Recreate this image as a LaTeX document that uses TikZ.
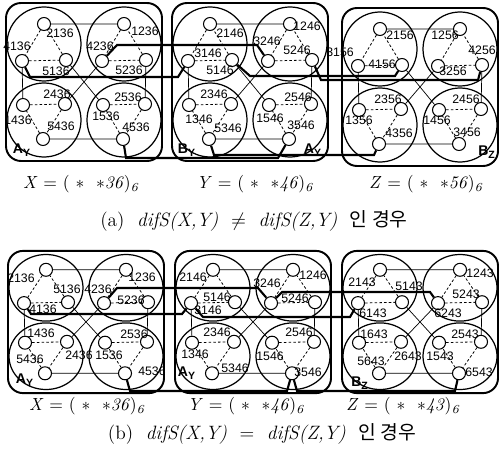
\documentclass[tikz,border=0pt]{standalone}
\usepackage{fontspec}
\usepackage{amsmath}
\usetikzlibrary{positioning}
\newfontfamily\numfont{Liberation Sans}
\newfontfamily\kfont{Noto Sans CJK KR}

\tikzset{
  box/.style={line width=1.1pt, rounded corners=0.3cm},
  ring/.style={line width=0.7pt},
  pe/.style={circle, draw, line width=0.6pt, fill=white, minimum size=0.26cm, inner sep=0pt},
  tri/.style={line width=0.45pt, dash pattern=on 1.5pt off 1.2pt},
  dim/.style={line width=0.4pt},
  link/.style={line width=1.2pt},
  num/.style={font=\numfont\fontsize{7}{8}\selectfont, inner sep=0pt},
  lettag/.style={font=\numfont\bfseries\fontsize{8}{9}\selectfont, inner sep=0pt},
  grpcap/.style={font=\fontsize{10}{12}\selectfont, inner sep=0pt}
}

% one group: #1 name, #2 x, #3 y, #4 yscale
\newcommand{\cube}[4]{%
  \begin{scope}[shift={(#2,#3)}, yscale=#4]
    \draw[box] (-78,-79) rectangle (78,79);
    \foreach \cx/\cy in {-40/-38, 40/-38, -40/38, 40/38}
      \draw[ring] (\cx,\cy) circle (37);
    \foreach \q/\cx in {1/-40, 2/40} {
      \node[pe] (#1\q1) at (\cx,-58) {};
      \node[pe] (#1\q2) at (\cx-22,-21) {};
      \node[pe] (#1\q3) at (\cx+22,-22) {};
    }
    \foreach \q/\cx in {3/-40, 4/40} {
      \node[pe] (#1\q1) at (\cx-21,23) {};
      \node[pe] (#1\q2) at (\cx+21,22) {};
      \node[pe] (#1\q3) at (\cx-1,57) {};
    }
    \foreach \q in {1,2,3,4}
      \draw[tri] (#1\q1) -- (#1\q2) (#1\q2) -- (#1\q3) (#1\q3) -- (#1\q1);
    \draw[dim] (#111) -- (#121) (#112) -- (#131) (#113) -- (#141)
               (#122) -- (#132) (#123) -- (#142) (#133) -- (#143);
  \end{scope}}

\begin{document}
\begin{tikzpicture}[x=0.02cm, y=-0.02cm]
\useasboundingbox (0,0) rectangle (499,462);

% (a)
\cube{aX}{84}{82}{1}
\cube{aY}{250}{82}{1}
\cube{aZ}{420}{87}{1}

\draw[link] (aX12) -- (30,77) -- (178,77) -- (aY12);
\draw[link] (aX22) -- (117,45) -- (257,45) -- (aY22);
\draw[link] (aX43) -- (126,158) -- (278,158) -- (aY43);
\draw[link] (aY13) -- (250,76) -- (395,76) -- (aZ13);
\draw[link] (aY23) -- (321,80) -- (478,80) -- (aZ23);
\draw[link] (aY33) -- (214,155) -- (374,155) -- (aZ33);

\foreach \n/\dx/\dy/\lbl in {11/16/9/2136, 12/-5/-15/4136, 13/-10/11/5136,
    21/21/7/1236, 22/-2/-15/4236, 23/-17/10/5236,
    31/-5/15/1436, 32/-8/-10/2436, 33/18/-13/5436,
    41/3/11/1536, 42/-17/-7/2536, 43/13/-12/4536}
  \path (aX\n) ++(\dx,\dy) node[num] (aX\n-t) {\lbl};
\foreach \n/\dx/\dy/\lbl in {11/20/9/2146, 12/20/-8/3146, 13/-12/10/5146,
    21/17/2/1246, 22/-1/-20/3246, 23/-15/-10/5246,
    31/10/14/1346, 32/-17/-10/2346, 33/19/-11/5346,
    41/1/13/1546, 42/-13/-7/2546, 43/12/-14/3546}
  \path (aY\n) ++(\dx,\dy) node[num] (aY\n-t) {\lbl};
\foreach \n/\dx/\dy/\lbl in {11/20/6/2156, 12/-18/-14/3156, 13/-20/-1/4156,
    21/-15/6/1256, 22/15/5/3256, 23/0/-15/4256,
    31/0/10/1356, 32/-13/-10/2356, 33/20/-11/4356,
    41/-2/10/1456, 42/-15/-10/2456, 43/8/-12/3456}
  \path (aZ\n) ++(\dx,\dy) node[num] (aZ\n-t) {\lbl};

\node[lettag] (aXa) at (22,150) {A\textsubscript{Y}};
\node[lettag] (aYb) at (187,150) {B\textsubscript{Y}};
\node[lettag] (aYa) at (313,150) {A\textsubscript{Y}};
\node[lettag] (aZb) at (487,152) {B\textsubscript{Z}};

\node[grpcap] (aXcap) at (81,184) {\textit{X} = ( $*$ \ $*$\textit{36})\textsubscript{\itshape 6}};
\node[grpcap] (aYcap) at (255,184) {\textit{Y} = ( $*$ \ $*$\textit{46})\textsubscript{\itshape 6}};
\node[grpcap] (aZcap) at (426,184) {\textit{Z} = ( $*$ \ $*$\textit{56})\textsubscript{\itshape 6}};
\node[grpcap, font=\fontsize{11}{13}\selectfont] (acap) at (254,221)
  {(a)\ \ \textit{difS(X,Y)}\ \ $\neq$\ \ \textit{difS(Z,Y)}\ \ {\kfont 인\ 경우}};

% (b)
\cube{bX}{86}{322}{0.9}
\cube{bY}{253}{322}{0.9}
\cube{bZ}{420}{322}{0.9}

\draw[link] (bX12) -- (31,314) -- (182,314) -- (bY12);
\draw[link] (bX22) -- (117,288) -- (258,288) -- (bY22);
\draw[link] (bX43) -- (130,391) -- (287,391) -- (bY43);
\draw[link] (bY12) -- (203,317) -- (350,317) -- (bZ12);
\draw[link] (bY22) -- (282,292) -- (430,292) -- (bZ22);
\draw[link] (bY43) -- (297,391) -- (455,391) -- (bZ43);

\foreach \n/\dx/\dy/\lbl in {11/-25/8/2136, 12/19/6/4136, 13/-1/-13/5136,
    21/16/7/1236, 22/-6/-14/4236, 23/-17/-2/5236,
    31/16/-9/1436, 32/12/13/2436, 33/-15/-14/5436,
    41/4/13/1536, 42/-13/-8/2536, 43/27/-2/4536}
  \path (bX\n) ++(\dx,\dy) node[num] (bX\n-t) {\lbl};
\foreach \n/\dx/\dy/\lbl in {11/-20/7/2146, 12/17/7/3146, 13/-18/-5/5146,
    21/20/5/1246, 22/-4/-20/3246, 23/-20/-4/5246,
    31/3/12/1346, 32/-17/-10/2346, 33/23/-5/5346,
    41/-2/14/1546, 42/-15/-10/2546, 43/16/-1/3546}
  \path (bY\n) ++(\dx,\dy) node[num] (bY\n-t) {\lbl};
\foreach \n/\dx/\dy/\lbl in {11/-18/12/2143, 12/15/10/6143, 13/7/-16/5143,
    21/20/3/1243, 22/10/10/6243, 23/-16/-8/5243,
    31/15/-8/1643, 32/7/14/2643, 33/-8/-12/5643,
    41/1/14/1543, 42/-16/-8/2543, 43/20/-1/6543}
  \path (bZ\n) ++(\dx,\dy) node[num] (bZ\n-t) {\lbl};

\node[lettag] (bXa) at (25,380) {A\textsubscript{Y}};
\node[lettag] (bYa) at (187,373) {A\textsubscript{Y}};
\node[lettag] (bZb) at (360,383) {B\textsubscript{Z}};

\node[grpcap] (bXcap) at (87,406) {\textit{X} = ( $*$ \ $*$\textit{36})\textsubscript{\itshape 6}};
\node[grpcap] (bYcap) at (246,406) {\textit{Y} = ( $*$ \ $*$\textit{46})\textsubscript{\itshape 6}};
\node[grpcap] (bZcap) at (403,406) {\textit{Z} = ( $*$ \ $*$\textit{43})\textsubscript{\itshape 6}};
\node[grpcap, font=\fontsize{11}{13}\selectfont] (bcap) at (262,434)
  {(b)\ \ \textit{difS(X,Y)}\ \ =\ \ \textit{difS(Z,Y)}\ \ {\kfont 인\ 경우}};
\end{tikzpicture}
\end{document}
